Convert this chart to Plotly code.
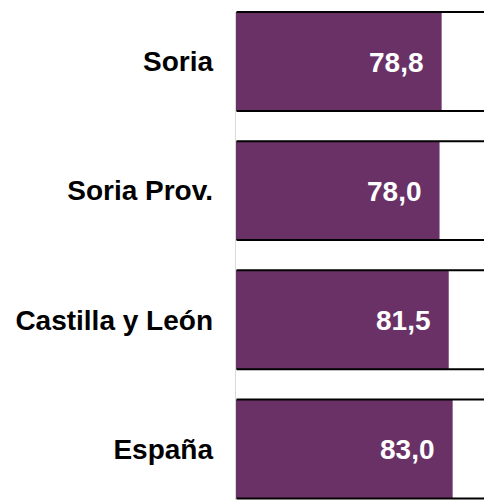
import plotly.graph_objects as go

categories = ["Soria", "Soria Prov.", "Castilla y León", "España"]
values = [78.8, 78.0, 81.5, 83.0]
value_labels = ["78,8", "78,0", "81,5", "83,0"]

BAR_COLOR = "#6a3167"
BAR_W = 0.766
FONT = "Liberation Sans, Arial, sans-serif"

fig = go.Figure(
    go.Bar(
        y=categories,
        x=values,
        orientation="h",
        marker=dict(color=BAR_COLOR, line=dict(width=0)),
        width=BAR_W,
        hoverinfo="skip",
    )
)

for i, (v, t) in enumerate(zip(values, value_labels)):
    fig.add_annotation(
        x=v, y=categories[i], xref="x", yref="y",
        text=f"<b>{t}</b>", showarrow=False,
        xanchor="right", yanchor="middle", xshift=-16, yshift=-1,
        font=dict(family=FONT, size=28, color="white"),
    )

shapes = []
for i in range(len(categories)):
    for edge in (i - BAR_W / 2, i + BAR_W / 2):
        shapes.append(dict(
            type="line", xref="paper", yref="y",
            x0=0.006, x1=1, y0=edge, y1=edge,
            line=dict(color="black", width=2),
        ))
shapes.append(dict(
    type="line", xref="x", yref="y",
    x0=0, x1=0, y0=-BAR_W / 2, y1=3.5,
    line=dict(color="#d9d9d9", width=2),
    layer="above",
))
fig.update_layout(shapes=shapes)

fig.update_layout(
    width=484, height=492,
    margin=dict(l=227, r=0, t=0, b=0),
    paper_bgcolor="white", plot_bgcolor="white",
    showlegend=False,
    xaxis=dict(range=[0, 98], visible=False, showgrid=False, zeroline=False),
    yaxis=dict(
        type="category",
        range=[3.395, -0.414],
        showgrid=False, zeroline=False, showline=False,
        ticks="", ticklabelstandoff=21,
        tickfont=dict(family=FONT, size=28, color="black"),
        tickvals=categories,
        ticktext=[f"<b>{c}</b>" for c in categories],
    ),
)

fig.write_html("out.html")
